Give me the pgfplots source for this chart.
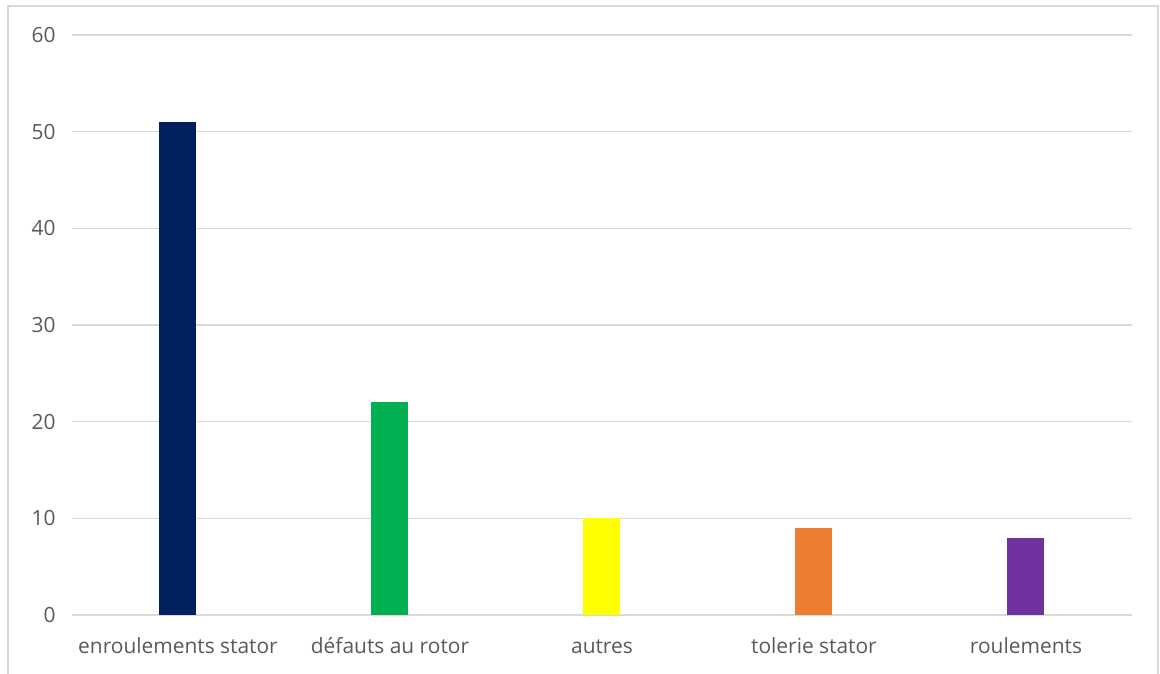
\documentclass[border=0pt]{standalone}
\usepackage{pgfplots}
\pgfplotsset{compat=1.18}
\usepackage{fontspec}
\setmainfont{Open Sans}
\definecolor{txt}{HTML}{595959}
\definecolor{grd}{HTML}{D9D9D9}
\definecolor{c1}{HTML}{002060}
\definecolor{c2}{HTML}{00B050}
\definecolor{c3}{HTML}{FFFF00}
\definecolor{c4}{HTML}{ED7D31}
\definecolor{c5}{HTML}{7030A0}
\begin{document}
\begin{tikzpicture}[x=1bp,y=1bp]
\useasboundingbox (0,0) rectangle (1160,674);
\draw[grd, line width=1.2bp] (8,0) -- (8,668) -- (1158,668) -- (1158,0);
\begin{axis}[
  at={(72bp,59bp)}, anchor=south west,
  scale only axis, width=1060bp, height=580bp,
  xmin=-0.5, xmax=4.5, ymin=0, ymax=60,
  ytick={0,10,20,30,40,50,60},
  xtick={0,1,2,3,4},
  xticklabels={enroulements stator, défauts au rotor, autres, tolerie stator, roulements},
  axis line style={draw=none},
  axis x line*=bottom,
  x axis line style={draw=grd, line width=1.5bp},
  ymajorgrids, grid style={grd, line width=1.2bp},
  major tick length=0pt,
  tick label style={text=txt, font=\fontsize{21}{25}\selectfont},
  yticklabel style={xshift=-13bp},
  xticklabel style={anchor=base, yshift=-39bp},
  /pgf/number format/assume math mode=true,
  ybar, bar width=37bp, bar shift=0pt,
  clip=false,
]
\addplot[fill=c1, draw=none] coordinates {(0,51)};
\addplot[fill=c2, draw=none] coordinates {(1,22)};
\addplot[fill=c3, draw=none] coordinates {(2,10)};
\addplot[fill=c4, draw=none] coordinates {(3,9)};
\addplot[fill=c5, draw=none] coordinates {(4,8)};
\end{axis}
\end{tikzpicture}
\end{document}
